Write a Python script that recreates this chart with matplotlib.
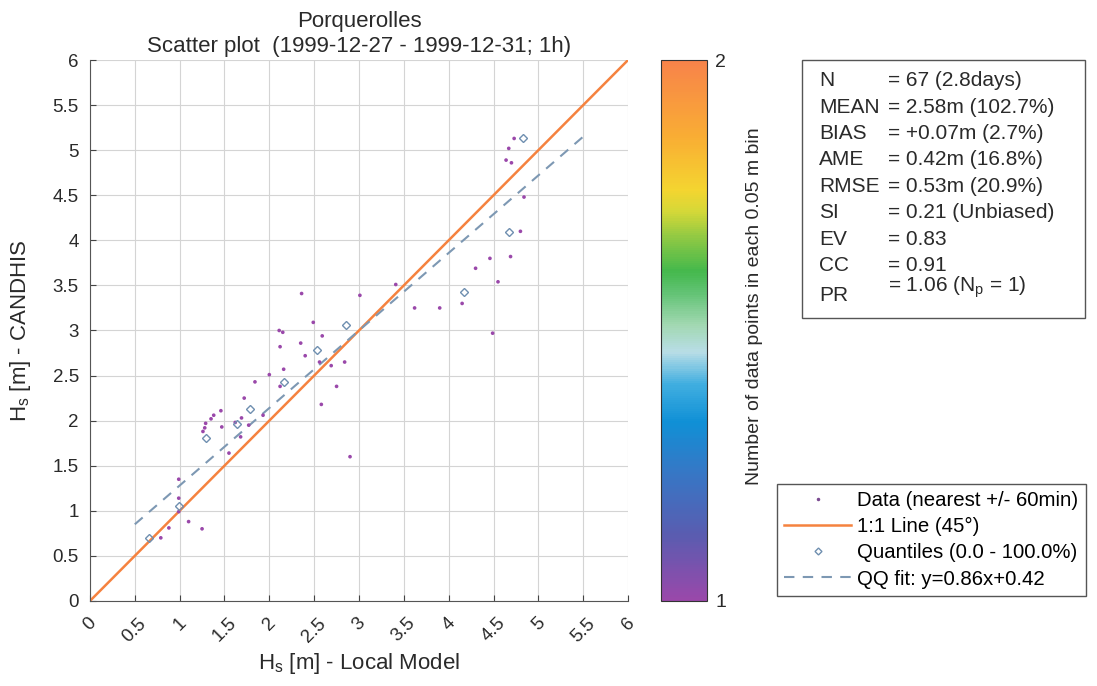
import numpy as np
import matplotlib
matplotlib.use("Agg")
import matplotlib.pyplot as plt
from matplotlib.colors import LinearSegmentedColormap
from matplotlib.patches import Rectangle
from matplotlib.lines import Line2D
import matplotlib.cm as cm

plt.rcParams['font.family'] = ['Liberation Sans', 'DejaVu Sans']
plt.rcParams['mathtext.fontset'] = 'custom'
plt.rcParams['mathtext.rm'] = 'Liberation Sans'
plt.rcParams['mathtext.it'] = 'Liberation Sans'

# Hs from local model (x) vs CANDHIS buoy (y)
local_model = [2.11, 2.15, 2.59, 2.12, 2.35, 2.56, 2.69, 2.84, 2.16, 2.00,
               1.84, 2.12, 2.75, 2.58, 1.72, 1.46, 1.38, 1.93, 1.29, 1.69,
               1.77, 1.28, 1.26, 1.47, 1.68, 1.55, 2.90, 0.99, 0.99, 1.10,
               1.25, 0.88, 0.79, 4.73, 4.67, 4.64, 4.70, 4.84, 4.80, 4.69,
               4.46, 4.30, 4.55, 4.49, 3.41, 3.01, 3.62, 3.90, 4.15, 2.36,
               2.49, 0.99, 1.35, 1.62, 2.40]
candhis = [3.00, 2.98, 2.94, 2.82, 2.86, 2.65, 2.61, 2.65, 2.57, 2.51,
           2.43, 2.38, 2.38, 2.18, 2.25, 2.11, 2.06, 2.06, 1.97, 2.03,
           1.95, 1.92, 1.88, 1.93, 1.82, 1.64, 1.60, 1.35, 1.14, 0.88,
           0.80, 0.81, 0.70, 5.13, 5.02, 4.89, 4.86, 4.48, 4.10, 3.82,
           3.80, 3.69, 3.54, 2.97, 3.51, 3.39, 3.25, 3.25, 3.30, 3.41,
           3.09, 0.99, 2.02, 1.98, 2.72]
bin_count = [1] * len(local_model)

# quantiles (0 - 100 %)
quant_x = [0.66, 0.99, 1.29, 1.64, 1.79, 2.16, 2.53, 2.85, 4.17, 4.67, 4.83]
quant_y = [0.70, 1.05, 1.81, 1.96, 2.13, 2.43, 2.78, 3.06, 3.43, 4.09, 5.13]

# QQ fit
fit_slope = 0.86
fit_icpt = 0.42
fit_x = [0.5, 5.5]

stat_names = ['N', 'MEAN', 'BIAS', 'AME', 'RMSE', 'SI', 'EV', 'CC', 'PR']
stat_values = ['= 67 (2.8days)', '= 2.58m (102.7%)', '= +0.07m (2.7%)',
               '= 0.42m (16.8%)', '= 0.53m (20.9%)', '= 0.21 (Unbiased)',
               '= 0.83', '= 0.91', r'= 1.06 (N$_\mathrm{p}$ = 1)']

ticks = np.arange(0, 6.01, 0.5)
tick_labels = ['0', '0.5', '1', '1.5', '2', '2.5', '3', '3.5', '4', '4.5', '5', '5.5', '6']

cmap = LinearSegmentedColormap.from_list('hs', [
    (0.00, '#9a48aa'), (0.12, '#5a5cb0'), (0.24, '#3578c6'), (0.33, '#1090d6'),
    (0.40, '#40aee0'), (0.46, '#b8dde6'), (0.51, '#a2d8b2'), (0.57, '#62c374'),
    (0.61, '#44b84c'), (0.67, '#8cc844'), (0.72, '#d4d838'), (0.76, '#f4d530'),
    (0.86, '#f9ad34'), (1.00, '#f8834a')])

txt = '#2a2a2a'

fig = plt.figure(figsize=(10.97, 6.86), dpi=100)
ax = fig.add_axes([0.082, 0.124, 0.4905, 0.7885])

ax.grid(True, color='#d4d4d4', lw=0.8)
ax.set_axisbelow(True)
ax.plot([0, 6], [0, 6], color='#f5823f', lw=1.8, zorder=2)
fx = np.array(fit_x)
ax.plot(fx, fit_slope * fx + fit_icpt, color='#7d98b3', lw=1.5,
        dashes=(5, 4), zorder=3)
ax.scatter(local_model, candhis, c=bin_count, cmap=cmap, vmin=1, vmax=2,
           s=7, edgecolors='none', zorder=4)
ax.plot(quant_x, quant_y, 'D', ms=4.5, mfc='none', mec='#6f8fb0', mew=1.0,
        zorder=5)

ax.set_xlim(0, 6)
ax.set_ylim(0, 6)
ax.set_xticks(ticks)
ax.set_yticks(ticks)
ax.set_xticklabels(tick_labels, rotation=45, ha='center', fontsize=13.5)
ax.set_yticklabels(tick_labels, fontsize=13.5)
ax.tick_params(direction='in', length=4, color='#444444', labelcolor=txt)
ax.tick_params(axis='x', pad=10)
ax.tick_params(axis='y', pad=8)
for s in ['top', 'right']:
    ax.spines[s].set_visible(False)
for s in ['left', 'bottom']:
    ax.spines[s].set_color('#555555')
ax.set_xlabel(r'H$_\mathrm{s}$ [m] - Local Model', fontsize=16, color=txt,
              labelpad=4)
ax.set_ylabel(r'H$_\mathrm{s}$ [m] - CANDHIS', fontsize=16, color=txt,
              labelpad=14)
ax.set_title('Porquerolles\nScatter plot  (1999-12-27 - 1999-12-31; 1h)',
             fontsize=16, color=txt, pad=6, linespacing=1.2)

# colorbar
cax = fig.add_axes([0.6026, 0.124, 0.042, 0.7885])
sm = cm.ScalarMappable(cmap=cmap, norm=plt.Normalize(1, 2))
cb = fig.colorbar(sm, cax=cax, ticks=[1, 2])
cb.ax.tick_params(length=0, labelsize=14, labelcolor=txt, pad=6)
cb.outline.set_edgecolor('#333333')
cb.set_label('Number of data points in each 0.05 m bin', fontsize=14,
             color=txt, labelpad=14)
cb.ax.yaxis.label.set_y(0.545)

# stats box
fig.patches.append(Rectangle((0.731, 0.5364), 0.258, 0.3761,
                             transform=fig.transFigure, fill=False,
                             edgecolor='#555555', lw=1.0))
y0 = 0.882
dy = 0.0384
for i, (n, v) in enumerate(zip(stat_names, stat_values)):
    yy = y0 - i * dy
    if n == 'PR':
        yy -= 0.006
    fig.text(0.7465, yy, n, fontsize=15, va='center', color=txt)
    fig.text(0.8095, yy + (0.012 if n == 'PR' else 0), v, fontsize=15,
             va='center', color=txt)

# legend
handles = [
    Line2D([], [], ls='none', marker='.', ms=3, color='#7a4a90'),
    Line2D([], [], color='#f5823f', lw=1.8),
    Line2D([], [], ls='none', marker='D', ms=3.5, mfc='none', mec='#6f8fb0'),
    Line2D([], [], color='#7d98b3', lw=1.5, dashes=(5, 4)),
]
labels = ['Data (nearest +/- 60min)', '1:1 Line (45°)',
          'Quantiles (0.0 - 100.0%)', 'QQ fit: y=0.86x+0.42']
leg = fig.legend(handles, labels, loc='upper left',
                 bbox_to_anchor=(0.708, 0.2945), fontsize=14.7,
                 frameon=True, fancybox=False, handlelength=3.3,
                 handletextpad=0.3, labelspacing=0.35, borderpad=0.35,
                 borderaxespad=0, edgecolor='#555555', framealpha=1)
leg.get_frame().set_linewidth(1.0)

fig.savefig('out.png', dpi=100)
